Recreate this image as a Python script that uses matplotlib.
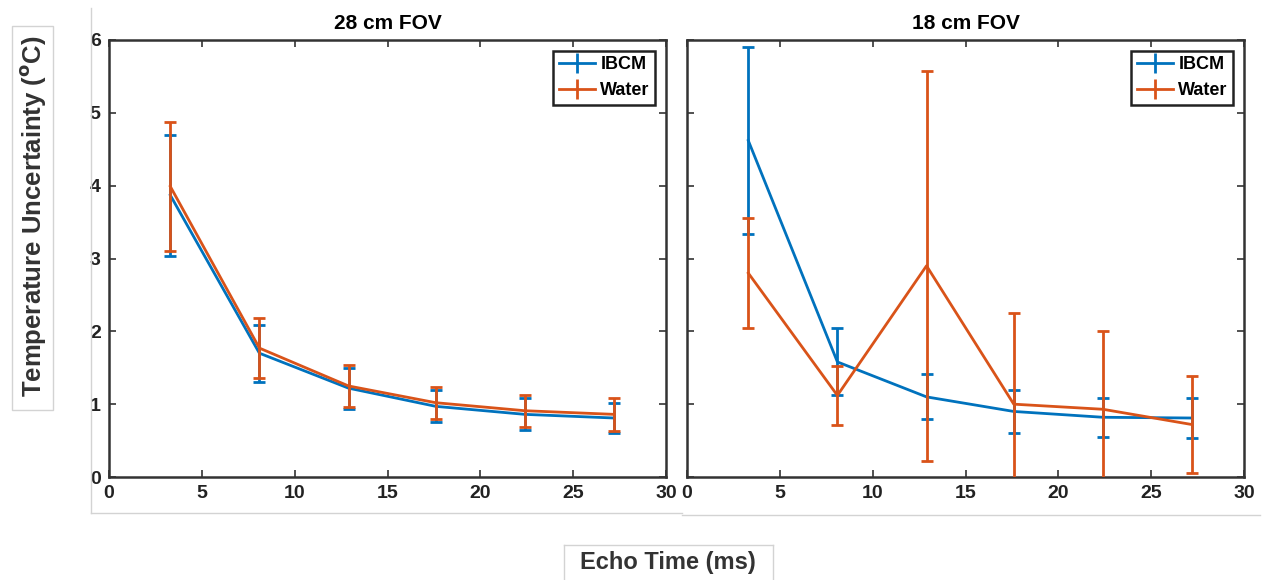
import matplotlib
matplotlib.use("Agg")
import matplotlib.pyplot as plt
from matplotlib.lines import Line2D
from matplotlib.patches import Rectangle

plt.rcParams['font.family'] = ['Liberation Sans', 'DejaVu Sans']

echo_time = [3.3, 8.1, 12.9, 17.6, 22.4, 27.2]

# 28 cm FOV
ibcm_28 = [3.87, 1.70, 1.22, 0.97, 0.86, 0.81]
ibcm_28_err = [0.83, 0.39, 0.28, 0.22, 0.22, 0.20]
water_28 = [3.99, 1.77, 1.25, 1.02, 0.91, 0.86]
water_28_err = [0.89, 0.41, 0.29, 0.22, 0.22, 0.23]

# 18 cm FOV
ibcm_18 = [4.62, 1.58, 1.10, 0.90, 0.82, 0.81]
ibcm_18_err = [1.29, 0.46, 0.31, 0.30, 0.27, 0.28]
water_18 = [2.80, 1.12, 2.90, 1.00, 0.93, 0.72]
water_18_err = [0.75, 0.40, 2.68, 1.25, 1.07, 0.66]

titles = ['28 cm FOV', '18 cm FOV']
series_names = ['IBCM', 'Water']
x_ticks = [0, 5, 10, 15, 20, 25, 30]
y_ticks = [0, 1, 2, 3, 4, 5, 6]

blue = '#0072BD'
orange = '#D95319'

W, H = 1265, 580
fig = plt.figure(figsize=(W / 100, H / 100), dpi=100)

def ax_rect(x0, x1, y0, y1):
    return [x0 / W, 1 - y1 / H, (x1 - x0) / W, (y1 - y0) / H]

ax1 = fig.add_axes(ax_rect(109, 666, 40, 477))
ax2 = fig.add_axes(ax_rect(687, 1244, 40, 477))

panels = [
    (ax1, ibcm_28, ibcm_28_err, water_28, water_28_err),
    (ax2, ibcm_18, ibcm_18_err, water_18, water_18_err),
]

for i, (ax, ib, ibe, wa, wae) in enumerate(panels):
    ax.errorbar(echo_time, ib, yerr=ibe, color=blue, lw=2, elinewidth=2,
                capsize=4, capthick=2, label=series_names[0], zorder=2)
    ax.errorbar(echo_time, wa, yerr=wae, color=orange, lw=2, elinewidth=2,
                capsize=4, capthick=2, label=series_names[1], zorder=3)
    ax.set_xlim(0, 30)
    ax.set_ylim(0, 6)
    ax.set_xticks(x_ticks)
    ax.set_yticks(y_ticks)
    ax.tick_params(direction='in', top=True, right=True, length=5, width=1.2,
                   labelsize=14, color='#333333', pad=6)
    for lab in ax.get_xticklabels() + ax.get_yticklabels():
        lab.set_fontweight('bold')
        lab.set_color('#222222')
    for sp in ax.spines.values():
        sp.set_linewidth(1.8)
        sp.set_color('#333333')
    ax.set_title(titles[i], fontsize=15, fontweight='bold', pad=8)
    if i == 1:
        ax.tick_params(labelleft=False)
    handles = [
        Line2D([0], [0], color=blue, lw=2, marker='|', markersize=15, markeredgewidth=2),
        Line2D([0], [0], color=orange, lw=2, marker='|', markersize=15, markeredgewidth=2),
    ]
    leg = ax.legend(handles, series_names, loc='upper right', frameon=True,
                    fancybox=False, edgecolor='#222222', framealpha=1,
                    prop={'weight': 'bold', 'size': 13}, handlelength=2.0,
                    handletextpad=0.3, borderpad=0.3, labelspacing=0.5,
                    borderaxespad=0.6)
    leg.get_frame().set_linewidth(1.8)

# faint composition frames
grey = '#d3d3d3'
fig.add_artist(Line2D([91 / W, 91 / W], [1 - 8 / H, 1 - 513 / H], color=grey, lw=1))
fig.add_artist(Line2D([91 / W, 682 / W], [1 - 513 / H, 1 - 513 / H], color=grey, lw=1))
fig.add_artist(Line2D([682 / W, 1260 / W], [1 - 515 / H, 1 - 515 / H], color=grey, lw=1))

fig.text(33 / W, 1 - 216 / H, 'Temperature Uncertainty ($\\mathbf{^{o}}$C)', rotation=90,
         ha='center', va='center', fontsize=18.5, fontweight='bold', color='#333333')
fig.add_artist(Rectangle((12 / W, 1 - 410 / H), 41 / W, 384 / H, fill=False,
                         edgecolor=grey, lw=1))

fig.text(668 / W, 1 - 563 / H, 'Echo Time (ms)', ha='center', va='center',
         fontsize=17, fontweight='bold', color='#333333')
fig.add_artist(Line2D([564 / W, 564 / W], [0, 1 - 545 / H], color=grey, lw=1))
fig.add_artist(Line2D([564 / W, 773 / W], [1 - 545 / H, 1 - 545 / H], color=grey, lw=1))
fig.add_artist(Line2D([773 / W, 773 / W], [0, 1 - 545 / H], color=grey, lw=1))

fig.savefig('out.png', dpi=100)
